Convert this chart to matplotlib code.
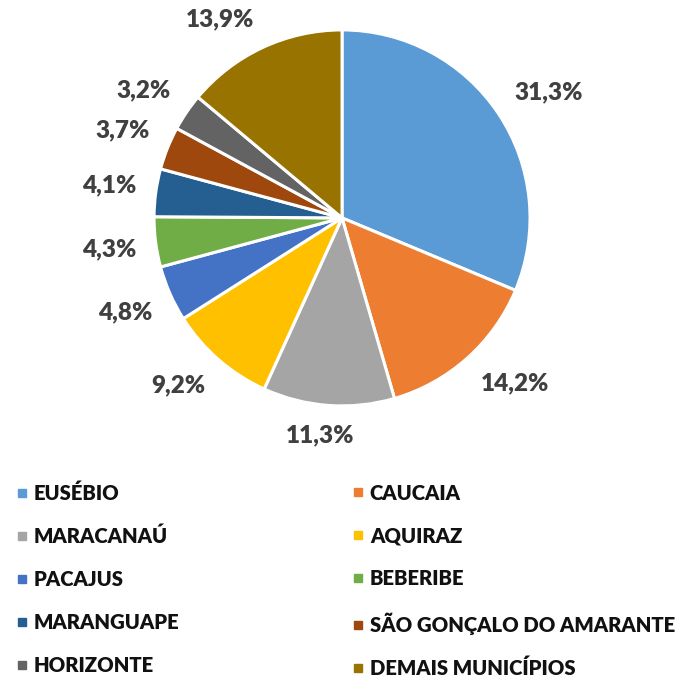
import numpy as np
import matplotlib
matplotlib.use("Agg")
import matplotlib.pyplot as plt
from matplotlib.lines import Line2D

plt.rcParams['font.family'] = ['Lato', 'DejaVu Sans']

names = ['EUSÉBIO', 'CAUCAIA', 'MARACANAÚ', 'AQUIRAZ', 'PACAJUS', 'BEBERIBE',
         'MARANGUAPE', 'SÃO GONÇALO DO AMARANTE', 'HORIZONTE', 'DEMAIS MUNICÍPIOS']
shares = [31.3, 14.2, 11.3, 9.2, 4.8, 4.3, 4.1, 3.7, 3.2, 13.9]
labels = ['31,3%', '14,2%', '11,3%', '9,2%', '4,8%', '4,3%', '4,1%', '3,7%', '3,2%', '13,9%']
colors = ['#5B9BD5', '#ED7D31', '#A5A5A5', '#FFC000', '#4472C4',
          '#70AD47', '#255E91', '#9E480E', '#636363', '#997300']

fig = plt.figure(figsize=(6.8, 6.83), dpi=100)
ax = fig.add_axes([0.503 - 0.2765, 0.681 - 0.2753, 0.553, 0.5505])

wedges, _ = ax.pie(shares, colors=colors, startangle=90, counterclock=False,
                   wedgeprops=dict(edgecolor='white', linewidth=2.2))
ax.set_xlim(-1, 1)
ax.set_ylim(-1, 1)
ax.set_aspect('equal')

# data labels outside the slices (Excel "outside end" style):
# the box corner nearest the pie sits just outside the rim
for w, lab in zip(wedges, labels):
    ang = np.deg2rad((w.theta1 + w.theta2) / 2)
    c, s = np.cos(ang), np.sin(ang)
    hw = 0.037 * len(lab)
    hh = 0.06
    x = 1.10 * c + hw * np.clip(3 * c, -1, 1)
    y = 1.10 * s + hh * np.clip(3 * s, -1, 1)
    ax.text(x, y, lab, ha='center', va='center', fontsize=17.5,
            fontweight='heavy', color='#404040', clip_on=False)

def handle(col):
    return Line2D([], [], marker='s', linestyle='none', markersize=5.5,
                  markerfacecolor=col, markeredgecolor=col)

for k, x0 in [(0, 0.026), (1, 0.52)]:
    idx = range(k, len(names), 2)
    leg = fig.legend([handle(colors[i]) for i in idx], [names[i] for i in idx],
                     loc='upper left', bbox_to_anchor=(x0, 0.292), frameon=False,
                     handlelength=0.4, handletextpad=0.4, labelspacing=1.18,
                     borderpad=0, borderaxespad=0,
                     prop=dict(size=14.6, weight='heavy'))
    for t in leg.get_texts():
        t.set_color('#111111')

fig.savefig('out.png', dpi=100)
